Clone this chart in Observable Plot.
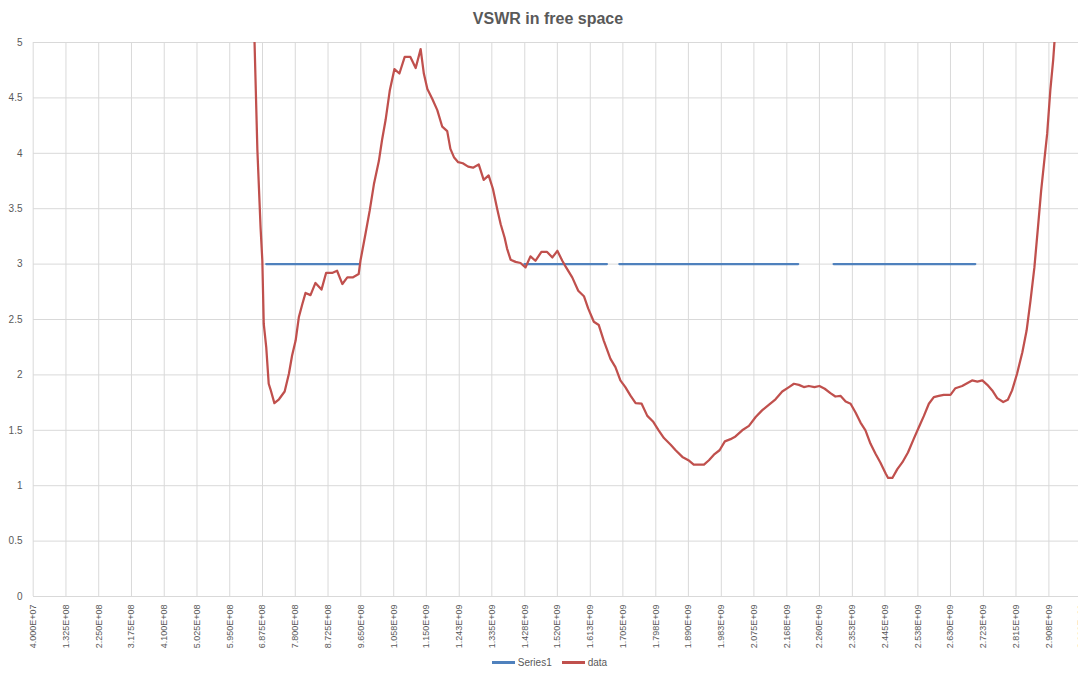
<!DOCTYPE html>
<html><head><meta charset="utf-8">
<script src="https://cdn.jsdelivr.net/npm/d3@7"></script>
<script src="https://cdn.jsdelivr.net/npm/@observablehq/plot@0.6"></script>
<style>
body{margin:0;background:#fff;font-family:"Liberation Sans",Arial,sans-serif;}
#wrap{width:1078px;height:673px;position:relative;overflow:hidden;background:#fff;}
#title{height:32px;box-sizing:border-box;padding-top:10px;padding-left:18px;text-align:center;font-size:16px;line-height:18px;font-weight:bold;color:#595959;}
#chart svg{display:block;}
#legend{height:21px;display:flex;justify-content:center;align-items:center;padding-left:21px;font-size:10px;color:#595959;}
.item{display:flex;align-items:center;margin:0 5px;}
.swatch{width:23px;height:2.5px;margin-right:3px;}
</style>
</head><body>
<div id="wrap">
  <div id="title">VSWR in free space</div>
  <div id="chart"></div>
  <div id="legend">
    <div class="item"><div class="swatch" style="background:#4F81BD"></div><span>Series1</span></div>
    <div class="item"><div class="swatch" style="background:#C0504D"></div><span>data</span></div>
  </div>
</div>
<script>
// X tick labels (category axis values, Hz)
const xTickLabels = ["4.000E+07","1.325E+08","2.250E+08","3.175E+08","4.100E+08","5.025E+08","5.950E+08","6.875E+08","7.800E+08","8.725E+08","9.650E+08","1.058E+09","1.150E+09","1.243E+09","1.335E+09","1.428E+09","1.520E+09","1.613E+09","1.705E+09","1.798E+09","1.890E+09","1.983E+09","2.075E+09","2.168E+09","2.260E+09","2.353E+09","2.445E+09","2.538E+09","2.630E+09","2.723E+09","2.815E+09","2.908E+09","3.000E+09"];
const yTicks = [0,0.5,1,1.5,2,2.5,3,3.5,4,4.5,5];

// Series1: VSWR limit of 3 over frequency bands (MHz)
const limitValue = 3;
const bandStartMHz = [698, 1427, 1695, 2300];
const bandEndMHz   = [960, 1660, 2200, 2700];

// data: measured VSWR (frequency in MHz)
const freqMHz = [656,665,673,682,687,691,698,705,710,721,734,750,762,771,781,790,800,809,823,837,854,867,884,898,913,927,942,959,964,978,990,1002,1016,1025,1035,1047,1060,1074,1089,1105,1120,1134,1143,1153,1167,1181,1195,1209,1218,1228,1240,1253,1268,1282,1298,1312,1326,1338,1350,1360,1371,1378,1388,1402,1416,1430,1444,1458,1475,1491,1506,1520,1534,1543,1562,1579,1595,1607,1623,1637,1651,1670,1684,1698,1712,1727,1741,1758,1774,1790,1806,1821,1840,1854,1873,1890,1905,1934,1948,1962,1978,1993,2009,2023,2042,2061,2080,2098,2117,2136,2155,2174,2188,2202,2216,2230,2246,2260,2275,2291,2305,2320,2334,2348,2362,2376,2390,2404,2418,2432,2447,2454,2466,2480,2494,2510,2526,2541,2555,2569,2583,2597,2611,2630,2644,2663,2677,2691,2706,2720,2734,2748,2762,2779,2792,2804,2818,2833,2845,2856,2867,2877,2886,2896,2903,2912,2920,2924,2932];
const vswr = [5.5,5.0,4.03,3.33,3.03,2.46,2.25,1.92,1.87,1.745,1.78,1.85,2.01,2.175,2.31,2.52,2.64,2.74,2.72,2.83,2.77,2.92,2.92,2.94,2.82,2.88,2.88,2.91,3.03,3.27,3.48,3.72,3.93,4.12,4.30,4.57,4.76,4.72,4.87,4.87,4.77,4.94,4.72,4.58,4.49,4.39,4.24,4.20,4.04,3.965,3.92,3.91,3.88,3.87,3.90,3.76,3.80,3.68,3.50,3.36,3.24,3.14,3.04,3.02,3.01,2.97,3.07,3.03,3.11,3.11,3.06,3.12,3.03,2.98,2.88,2.76,2.71,2.60,2.48,2.45,2.31,2.145,2.07,1.95,1.89,1.81,1.745,1.74,1.63,1.58,1.50,1.43,1.37,1.32,1.26,1.23,1.19,1.19,1.23,1.28,1.32,1.40,1.42,1.445,1.50,1.54,1.62,1.68,1.73,1.78,1.85,1.89,1.92,1.91,1.89,1.90,1.89,1.90,1.875,1.835,1.805,1.81,1.76,1.74,1.66,1.57,1.50,1.38,1.29,1.21,1.11,1.07,1.07,1.15,1.21,1.30,1.42,1.53,1.63,1.74,1.80,1.81,1.82,1.82,1.88,1.90,1.925,1.95,1.94,1.95,1.91,1.86,1.79,1.755,1.775,1.86,2.01,2.205,2.40,2.67,2.97,3.33,3.66,3.965,4.175,4.57,4.84,5.02,5.4];

const xTickValues = xTickLabels.map(s => Number(s) / 1e6);
const labelMap = new Map(xTickValues.map((v, i) => [v, xTickLabels[i]]));
const dataRows = freqMHz.map((f, i) => ({f, v: vswr[i]}));
const limitRows = bandStartMHz.flatMap((s, i) => [{f: s, v: limitValue, band: i}, {f: bandEndMHz[i], v: limitValue, band: i}]);

const plot = Plot.plot({
  width: 1078, height: 620,
  marginTop: 10, marginBottom: 56, marginLeft: 33, marginRight: 0,
  x: {type: "linear", domain: [40, 3000], range: [32.7, 1081], label: null},
  y: {domain: [0, 5], label: null},
  style: {fontFamily: '"Liberation Sans", Arial, sans-serif', color: "#595959", background: "#fff", overflow: "hidden"},
  marks: [
    Plot.gridY(yTicks, {stroke: "#d9d9d9", strokeOpacity: 1, strokeWidth: 1}),
    Plot.gridX(xTickValues, {stroke: "#d9d9d9", strokeOpacity: 1, strokeWidth: 1}),
    Plot.axisY(yTicks, {tickSize: 0, tickPadding: 11, fontSize: 10, tickFormat: d => String(d), label: null}),
    Plot.axisX(xTickValues, {tickSize: 0, tickPadding: 8, tickRotate: -90, fontSize: 9, tickFormat: d => labelMap.get(d), label: null}),
    Plot.lineY(limitRows, {x: "f", y: "v", z: "band", stroke: "#4F81BD", strokeWidth: 2.25}),
    Plot.lineY(dataRows, {x: "f", y: "v", stroke: "#C0504D", strokeWidth: 2.25, clip: true})
  ]
});
document.getElementById("chart").appendChild(plot);
</script>
</body></html>
